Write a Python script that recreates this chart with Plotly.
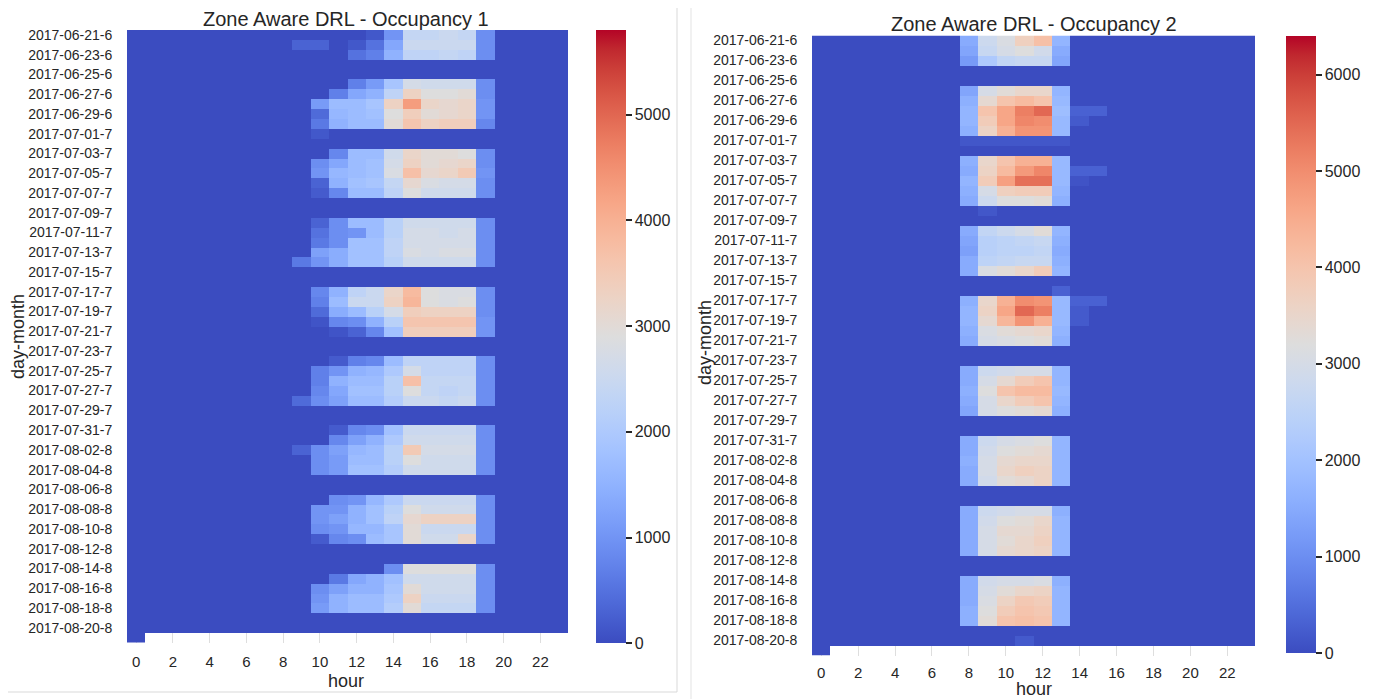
import numpy as np
import plotly.graph_objects as go
from datetime import date, timedelta

# page body has an 8px margin: the figure starts at (8, 8) in the window
OFF = 8
W, H = 1381 - OFF, 699 - OFF

# ---------------- categories ----------------
start_day = date(2017, 6, 21)
n_days = 62
day_labels = []
for i in range(n_days):
    d = start_day + timedelta(days=i)
    day_labels.append(f"{d:%Y-%m-%d}-{d.month}")
hours = list(range(24))
hour_ticks = list(range(0, 24, 2))

# ---------------- Occupancy 1 values (hours 8..19) ----------------
occ1_hours = list(range(8, 20))
O1 = [0] * 12
occ1_week0 = [  # Jun 21 - Jun 25
    [0, 0, 0, 0, 0, 150, 1000, 2400, 2400, 2500, 2400, 900],
    [0, 300, 300, 0, 150, 500, 1300, 2500, 2500, 2500, 2500, 900],
    [0, 0, 0, 0, 500, 700, 1500, 2300, 2300, 2400, 2300, 900],
    O1, O1]
occ1_week1 = [  # Jun 26 - Jul 2
    [0, 0, 0, 0, 700, 1100, 1900, 2700, 2600, 2600, 2600, 900],
    [0, 0, 0, 700, 1300, 1500, 2300, 3300, 2900, 2900, 3000, 900],
    [0, 0, 1100, 1700, 1700, 1900, 3300, 4300, 3200, 3100, 3200, 1000],
    [0, 0, 400, 1600, 1700, 1800, 2900, 3400, 3000, 3100, 3200, 1000],
    [0, 0, 600, 1500, 1700, 1700, 3000, 3600, 3300, 3400, 3400, 800],
    [0, 0, 150, 0, 0, 0, 0, 0, 0, 0, 0, 0],
    O1]
occ1_week2 = [  # Jul 3 - Jul 9
    [0, 0, 0, 800, 1700, 1700, 2600, 3200, 3000, 3000, 2900, 900],
    [0, 0, 900, 1300, 1700, 1800, 2700, 3300, 3000, 3100, 3200, 900],
    [0, 0, 1000, 1600, 1700, 1800, 2800, 3700, 3100, 3200, 3500, 1000],
    [0, 0, 300, 1500, 1800, 1900, 2400, 3100, 2800, 2700, 2700, 900],
    [0, 0, 200, 800, 1700, 1700, 2300, 2900, 2600, 2600, 2600, 900],
    O1, O1]
occ1_week3 = [  # Jul 10 - Jul 16
    [0, 0, 300, 900, 1700, 1700, 2200, 2600, 2600, 2600, 2600, 900],
    [0, 0, 500, 900, 1000, 1700, 2200, 2700, 2700, 2600, 2700, 900],
    [0, 0, 600, 900, 1800, 1800, 2300, 2700, 2700, 2700, 2700, 900],
    [0, 0, 1200, 1400, 1800, 1800, 2300, 2800, 2700, 2800, 2800, 900],
    [0, 600, 1000, 1400, 1800, 1800, 2200, 2600, 2600, 2600, 2600, 900],
    O1, O1]
occ1_week4 = [  # Jul 17 - Jul 23
    [0, 0, 800, 1500, 2300, 2500, 3200, 3800, 2900, 2800, 2800, 900],
    [0, 0, 700, 1700, 2500, 2500, 3300, 3900, 2900, 2800, 2900, 900],
    [0, 0, 400, 1400, 1700, 2200, 2700, 3400, 3300, 3300, 3300, 900],
    [0, 0, 100, 800, 900, 1500, 2200, 3600, 3600, 3600, 3600, 1000],
    [0, 0, 0, 100, 300, 800, 1800, 3400, 3400, 3400, 3400, 1000],
    O1, O1]
occ1_week5 = [  # Jul 24 - Jul 30
    [0, 0, 0, 200, 700, 800, 1700, 2300, 2300, 2300, 2300, 900],
    [0, 0, 700, 1000, 1500, 1600, 2000, 2700, 2300, 2300, 2300, 900],
    [0, 0, 700, 1500, 1700, 1700, 2200, 3700, 2400, 2400, 2400, 900],
    [0, 0, 800, 1300, 1800, 1800, 2200, 2900, 2400, 2300, 2400, 900],
    [0, 400, 900, 1200, 1700, 1700, 2100, 2500, 2500, 2400, 2500, 900],
    O1, O1]
occ1_week6 = [  # Jul 31 - Aug 6
    [0, 0, 0, 200, 800, 900, 1800, 2500, 2500, 2500, 2500, 900],
    [0, 0, 0, 800, 1200, 1500, 2000, 2600, 2600, 2600, 2600, 900],
    [0, 300, 900, 1200, 1600, 1700, 2200, 3500, 2700, 2700, 2700, 900],
    [0, 0, 900, 1100, 1700, 1700, 2200, 2900, 2600, 2600, 2600, 900],
    [0, 0, 900, 1100, 1800, 1800, 2100, 2600, 2600, 2600, 2600, 900],
    O1, O1]
occ1_week7 = [  # Aug 7 - Aug 13
    [0, 0, 0, 900, 1000, 1600, 2000, 2500, 2500, 2500, 2500, 900],
    [0, 0, 1000, 1000, 1500, 1800, 2200, 2900, 2600, 2600, 2600, 900],
    [0, 0, 1000, 1200, 1500, 1800, 2300, 3100, 3300, 3300, 3300, 900],
    [0, 0, 900, 1000, 1600, 1600, 1900, 3000, 2500, 2500, 2500, 900],
    [0, 0, 200, 800, 900, 1700, 1900, 3000, 2600, 2600, 3200, 900],
    O1, O1]
occ1_week8 = [  # Aug 14 - Aug 20
    [0, 0, 0, 0, 0, 0, 900, 2900, 2900, 2900, 2900, 900],
    [0, 0, 0, 600, 1300, 1500, 1800, 2600, 2600, 2600, 2600, 900],
    [0, 0, 900, 1200, 1500, 1500, 1900, 3000, 2600, 2600, 2600, 900],
    [0, 0, 1000, 1500, 1700, 1700, 2000, 3300, 2500, 2500, 2500, 900],
    [0, 0, 1100, 1500, 1700, 1700, 2100, 3000, 2400, 2400, 2400, 900],
    O1, O1]

# ---------------- Occupancy 2 values (hours 8..15) ----------------
occ2_hours = list(range(8, 16))
O2 = [0] * 8
occ2_week0 = [
    [1500, 2800, 3100, 3700, 4100, 1700, 0, 0],
    [1400, 2700, 3000, 3200, 2900, 1500, 0, 0],
    [1200, 2200, 2600, 2700, 2700, 1400, 0, 0],
    O2, O2]
occ2_week1 = [
    [1400, 3000, 3300, 3500, 3500, 1700, 0, 0],
    [1600, 3400, 4000, 4200, 4000, 1800, 0, 0],
    [1700, 4000, 4600, 5200, 5500, 1900, 300, 300],
    [1700, 3800, 4600, 5100, 5000, 1800, 200, 0],
    [1600, 3600, 4400, 4900, 4900, 1800, 0, 0],
    [150, 150, 150, 150, 150, 150, 0, 0],
    O2]
occ2_week2 = [
    [1600, 3500, 4000, 4400, 4400, 1800, 0, 0],
    [1500, 3600, 4200, 4800, 5100, 1800, 300, 300],
    [1700, 3800, 4700, 5400, 5400, 1800, 100, 0],
    [1600, 3000, 3700, 3800, 3800, 1700, 0, 0],
    [1500, 2800, 3200, 3200, 3300, 1600, 0, 0],
    [0, 150, 0, 0, 0, 0, 0, 0],
    O2]
occ2_week3 = [
    [1500, 2600, 2800, 3000, 3300, 1700, 0, 0],
    [1400, 2400, 2500, 2600, 2700, 1600, 0, 0],
    [1300, 2400, 2500, 2500, 2600, 1500, 0, 0],
    [1500, 2500, 2600, 2700, 2700, 1600, 0, 0],
    [1500, 3100, 3300, 3500, 3800, 1700, 0, 0],
    O2,
    [0, 0, 0, 0, 0, 300, 0, 0]]
occ2_week4 = [
    [1600, 3500, 4400, 5000, 4900, 1800, 300, 300],
    [1700, 3600, 4600, 5500, 5200, 1800, 200, 0],
    [1700, 3400, 4300, 4900, 4400, 1800, 200, 0],
    [1600, 3100, 3300, 3400, 3500, 1700, 0, 0],
    [1500, 3000, 3100, 3200, 3300, 1600, 0, 0],
    O2, O2]
occ2_week5 = [
    [1500, 2800, 2900, 3000, 3000, 1700, 0, 0],
    [1500, 3000, 3400, 3800, 4000, 1700, 0, 0],
    [1600, 3200, 4000, 4200, 4200, 1800, 0, 0],
    [1500, 3000, 3500, 3800, 4000, 1700, 0, 0],
    [1400, 3000, 3200, 3300, 3400, 1600, 0, 0],
    O2, O2]
occ2_week6 = [
    [1500, 2800, 3000, 3100, 3200, 1700, 0, 0],
    [1500, 2900, 3200, 3300, 3400, 1700, 0, 0],
    [1600, 3000, 3400, 3500, 3500, 1700, 0, 0],
    [1500, 3000, 3500, 3700, 3600, 1700, 0, 0],
    [1500, 2900, 3300, 3400, 3600, 1700, 0, 0],
    O2, O2]
occ2_week7 = [
    [1500, 2800, 2900, 3000, 3000, 1600, 0, 0],
    [1500, 2900, 3200, 3300, 3500, 1700, 0, 0],
    [1500, 3000, 3400, 3400, 3600, 1700, 0, 0],
    [1500, 3000, 3300, 3500, 3700, 1700, 0, 0],
    [1500, 3000, 3400, 3500, 3600, 1700, 0, 0],
    O2, O2]
occ2_week8 = [
    [1500, 2900, 3000, 3000, 3100, 1600, 0, 0],
    [1500, 3000, 3300, 3500, 3600, 1700, 0, 0],
    [1500, 3100, 3600, 3900, 3800, 1700, 0, 0],
    [1600, 3200, 3800, 4000, 3900, 1700, 0, 0],
    [1600, 3300, 4000, 4100, 4000, 1700, 0, 0],
    O2,
    [0, 0, 0, 200, 0, 0, 0, 0]]

occ1_zmax = 5800
occ2_zmax = 6400

# ---------------- build matrices ----------------
def build(weeks, active_hours):
    rows = [r for w in weeks for r in w]
    z = np.zeros((n_days, 24))
    for i, row in enumerate(rows):
        for h, v in zip(active_hours, row):
            z[i, h] = v
    # last day (2017-08-21) only has hour 0
    z[n_days - 1, :] = np.nan
    z[n_days - 1, 0] = 0
    return z

z1 = build([occ1_week0, occ1_week1, occ1_week2, occ1_week3, occ1_week4,
            occ1_week5, occ1_week6, occ1_week7, occ1_week8], occ1_hours)
z2 = build([occ2_week0, occ2_week1, occ2_week2, occ2_week3, occ2_week4,
            occ2_week5, occ2_week6, occ2_week7, occ2_week8], occ2_hours)

# matplotlib "coolwarm"
coolwarm_rgb = [
    (59, 76, 192), (68, 90, 204), (77, 104, 215), (87, 117, 225), (98, 130, 234),
    (108, 142, 241), (119, 154, 247), (130, 165, 251), (141, 176, 254), (152, 185, 255),
    (163, 194, 255), (174, 201, 253), (184, 208, 249), (194, 213, 244), (204, 217, 238),
    (213, 219, 230), (221, 221, 221), (229, 216, 209), (236, 211, 197), (241, 204, 185),
    (245, 196, 173), (247, 187, 160), (247, 177, 148), (247, 166, 135), (244, 154, 123),
    (241, 141, 111), (236, 127, 99), (229, 112, 88), (222, 96, 77), (213, 80, 66),
    (203, 62, 56), (192, 40, 47), (180, 4, 38)]
coolwarm = [[i / (len(coolwarm_rgb) - 1), f"rgb{c}"] for i, c in enumerate(coolwarm_rgb)]

FONT = "Liberation Sans, Arial, sans-serif"
TXT = "#262626"

def fx(px):
    return (px - OFF) / W

def fy(py):
    return 1 - (py - OFF) / H

panels = [
    dict(z=z1, zmax=occ1_zmax, x0=127, x1=568, y0=30, y1=642.5,
         cbx=596, cby0=30.5, cby1=643, cbticks=list(range(0, 6000, 1000)),
         title="Zone Aware DRL - Occupancy 1", tx=346, ty=19, tlen=5,
         ylx=18, yly=337, hx=346, hy=681),
    dict(z=z2, zmax=occ2_zmax, x0=812, x1=1255, y0=35.5, y1=655.5,
         cbx=1286, cby0=36, cby1=653, cbticks=list(range(0, 7000, 1000)),
         title="Zone Aware DRL - Occupancy 2", tx=1034, ty=24, tlen=3,
         ylx=705, yly=343, hx=1034, hy=689),
]

fig = go.Figure()
annotations = []
for k, p in enumerate(panels):
    sfx = "" if k == 0 else str(k + 1)
    fig.add_trace(go.Heatmap(
        z=p["z"], x=hours, y=list(range(n_days)),
        colorscale=coolwarm, zmin=0, zmax=p["zmax"],
        xaxis="x" + sfx, yaxis="y" + sfx, hoverongaps=False,
        colorbar=dict(
            x=fx(p["cbx"]), xanchor="left", xpad=0,
            y=fy((p["cby0"] + p["cby1"]) / 2), yanchor="middle", ypad=0,
            len=(p["cby1"] - p["cby0"]) / H, lenmode="fraction",
            thickness=30, thicknessmode="pixels", outlinewidth=0,
            tickvals=p["cbticks"], ticks="outside", ticklen=6, tickwidth=1.5,
            tickcolor=TXT, tickfont=dict(family=FONT, size=16, color=TXT),
        ),
    ))
    fig.update_layout(**{
        "xaxis" + sfx: dict(
            domain=[fx(p["x0"]), fx(p["x1"])], anchor="y" + sfx,
            range=[-0.5, 23.5], tickvals=hour_ticks, showgrid=True,
            gridcolor="#dedede", gridwidth=1, zeroline=False, showline=False,
            ticks="outside", ticklen=p["tlen"], tickcolor="rgba(0,0,0,0)",
            tickfont=dict(family=FONT, size=15, color=TXT), automargin=False),
        "yaxis" + sfx: dict(
            domain=[fy(p["y1"]), fy(p["y0"])], anchor="x" + sfx,
            range=[n_days - 0.5, -0.5], tickvals=list(range(0, n_days - 1, 2)),
            ticktext=[day_labels[i] for i in range(0, n_days - 1, 2)],
            showgrid=False, zeroline=False, showline=False,
            ticks="outside", ticklen=11, tickcolor="rgba(0,0,0,0)",
            tickfont=dict(family=FONT, size=14, color=TXT), automargin=False),
    })
    annotations += [
        dict(text=p["title"], x=fx(p["tx"]), y=fy(p["ty"]), xref="paper", yref="paper",
             showarrow=False, xanchor="center", yanchor="middle",
             font=dict(family=FONT, size=20, color=TXT)),
        dict(text="day-month", x=fx(p["ylx"]), y=fy(p["yly"]), xref="paper", yref="paper",
             showarrow=False, textangle=-90, xanchor="center", yanchor="middle",
             font=dict(family=FONT, size=18, color=TXT)),
        dict(text="hour", x=fx(p["hx"]), y=fy(p["hy"]), xref="paper", yref="paper",
             showarrow=False, xanchor="center", yanchor="middle",
             font=dict(family=FONT, size=18, color=TXT)),
    ]

shapes = [
    dict(type="line", xref="paper", yref="paper", x0=fx(677), x1=fx(677), y0=1, y1=fy(692),
         line=dict(color="#d9d9d9", width=1)),
    dict(type="line", xref="paper", yref="paper", x0=0, x1=fx(677), y0=fy(692), y1=fy(692),
         line=dict(color="#d9d9d9", width=1)),
    dict(type="line", xref="paper", yref="paper", x0=fx(691), x1=fx(691), y0=1, y1=0,
         line=dict(color="#e3e3e3", width=1)),
]

fig.update_layout(
    width=W, height=H, autosize=False,
    margin=dict(l=0, r=0, t=0, b=0, autoexpand=False),
    paper_bgcolor="white", plot_bgcolor="white",
    annotations=annotations, shapes=shapes,
    font=dict(family=FONT, color=TXT),
)

fig.write_html("out.html")
